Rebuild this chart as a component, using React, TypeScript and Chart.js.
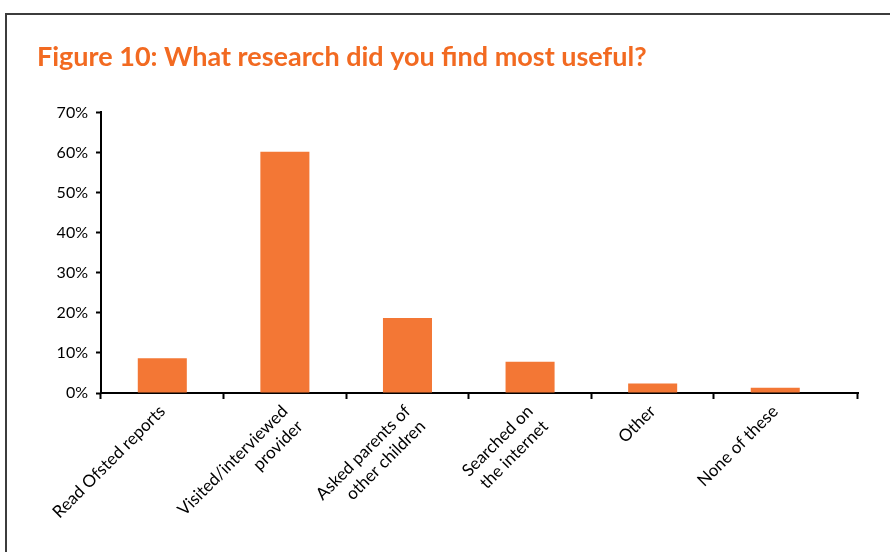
import React, { useEffect, useRef } from "react";
import { Chart, registerables } from "chart.js";

Chart.register(...registerables);

const TITLE = "Figure 10: What research did you find most useful?";
const categories: (string | string[])[] = [
  "Read Ofsted reports",
  ["Visited/interviewed", "provider"],
  ["Asked parents of", "other children"],
  ["Searched on", "the internet"],
  "Other",
  "None of these",
];
const values = [8.7, 60.2, 18.7, 7.8, 2.4, 1.3];
const yMin = 0;
const yMax = 70;
const yStep = 10;

const ORANGE = "#F37735";
const TITLE_ORANGE = "#F26A21";
const FONT = "Lato, 'Open Sans', sans-serif";

// The axis line runs a little past the last category (as in the source figure)
const AXIS_SPAN_IN_CATEGORIES = 6.175;

export default function App() {
  const ref = useRef<HTMLCanvasElement | null>(null);

  useEffect(() => {
    if (!ref.current) return;
    const chart = new Chart(ref.current, {
      type: "bar",
      data: {
        labels: categories,
        datasets: [
          {
            data: values,
            backgroundColor: ORANGE,
            borderWidth: 0,
            categoryPercentage: 1,
            barPercentage: 0.4,
          },
        ],
      },
      options: {
        animation: false,
        responsive: false,
        maintainAspectRatio: false,
        layout: { padding: { left: 37, right: 32, top: 0, bottom: 0 } },
        plugins: {
          legend: { display: false },
          tooltip: { enabled: false },
          title: {
            display: true,
            text: TITLE,
            align: "start",
            color: TITLE_ORANGE,
            font: { family: FONT, size: 27, weight: "bold", lineHeight: 1.2 },
            padding: { top: 41, bottom: 39 },
          },
        },
        scales: {
          x: {
            grid: {
              display: true,
              drawOnChartArea: false,
              drawTicks: true,
              tickLength: 6,
              tickWidth: 2,
              tickColor: "#000",
              offset: true,
            },
            border: { display: true, color: "#000", width: 2 },
            ticks: {
              color: "#000",
              font: { family: FONT, size: 17, lineHeight: 1.25 },
              minRotation: 45,
              maxRotation: 45,
              padding: 2,
              autoSkip: false,
              callback: (_v: any, i: number) =>
                i < categories.length ? (categories[i] as any) : "",
            },
            afterBuildTicks: (scale: any) => {
              const n = categories.length;
              scale._valueRange = AXIS_SPAN_IN_CATEGORIES;
              // extra boundary tick so that the final tick mark sits at the axis end
              const endValue = -0.5 + AXIS_SPAN_IN_CATEGORIES;
              const extra = 2 * endValue - (n - 1) - 0.002;
              scale.ticks = [...scale.ticks, { value: extra }];
            },
            afterFit: (scale: any) => {
              scale.height = 159;
              scale.paddingLeft = 0;
              scale.paddingRight = 0;
            },
          },
          y: {
            min: yMin,
            max: yMax,
            grid: {
              display: true,
              drawOnChartArea: false,
              drawTicks: true,
              tickLength: 5,
              tickWidth: 2,
              tickColor: "#000",
            },
            border: { display: true, color: "#000", width: 2 },
            ticks: {
              stepSize: yStep,
              color: "#000",
              font: { family: FONT, size: 16 },
              padding: 8,
              callback: (v: any) => `${v}%`,
            },
            afterFit: (scale: any) => {
              scale.width = 64;
            },
          },
        },
      },
    });
    return () => chart.destroy();
  }, []);

  return (
    <div
      style={{
        position: "fixed",
        left: 0,
        top: 0,
        width: 890,
        height: 552,
        background: "#fff",
        overflow: "hidden",
      }}
    >
      <div
        style={{
          position: "absolute",
          left: 5,
          top: 13,
          width: 900,
          height: 600,
          borderTop: "2px solid #3c3c3c",
          borderLeft: "2px solid #3c3c3c",
        }}
      />
      <canvas
        ref={ref}
        width={890}
        height={552}
        style={{ position: "absolute", left: 0, top: 0, width: 890, height: 552 }}
      />
    </div>
  );
}
